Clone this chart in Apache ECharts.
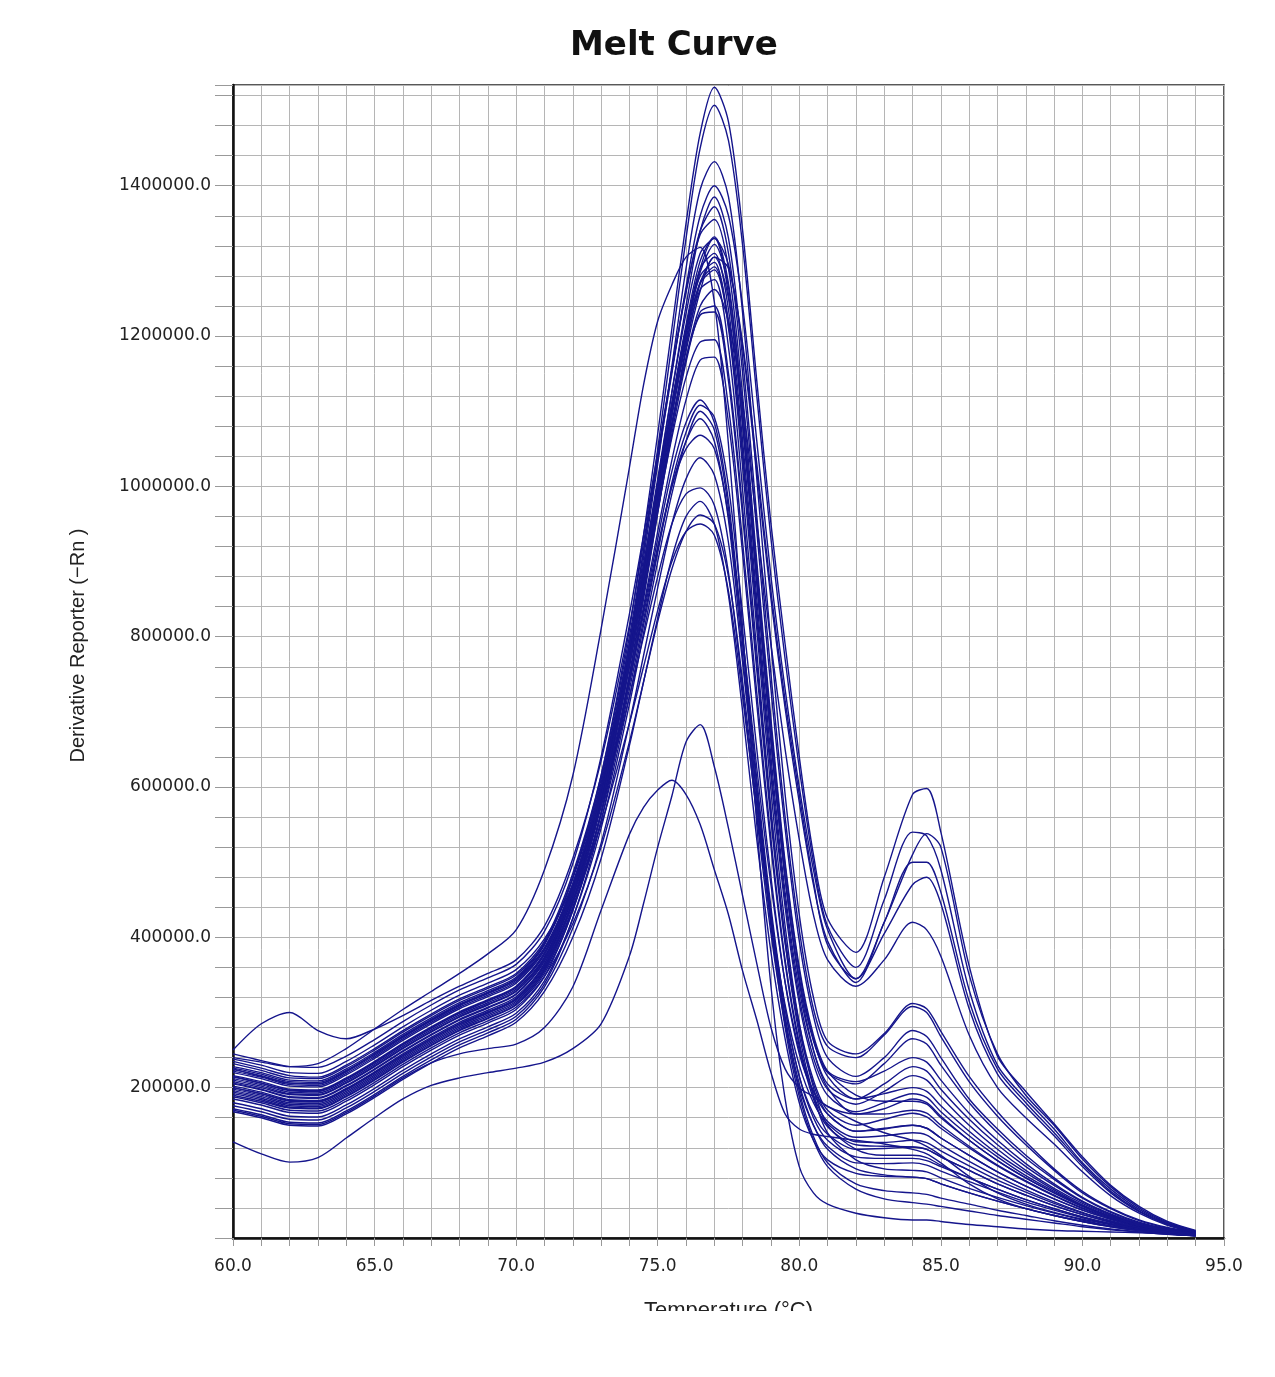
<!DOCTYPE html>
<html>
<head>
<meta charset="utf-8">
<title>Melt Curve</title>
<script src="https://cdn.jsdelivr.net/npm/echarts@6/dist/echarts.min.js"></script>
<style>
    html, body { margin: 0; padding: 0; background: #fff; }
    #chart { width: 1275px; height: 1377px; }
</style>
</head>
<body>
<div id="chart"></div>
<script>
// temperature points (°C)
const temps = [60, 61, 62, 63, 64, 65, 66, 67, 68, 69, 70, 71, 72, 73, 74,
    74.5, 75, 75.5, 76, 76.5, 77, 77.5, 78, 78.5, 79, 79.5, 80, 80.5, 81,
    82, 83, 84, 84.5, 85, 86, 87, 88, 89, 90, 91, 92, 93, 94];

// derivative reporter values, in thousands, one array per well
const well01 = [225,215,206,205,222,245,268,290,310,326,345, 390,480,615,810, 935,1070,1210,1350,1470,1531,1485,1340,1140,950,790,640,510,425, 380,480,590,598,540, 362,242,195,152,108,70,42,22,10];
const well02 = [200,192,183,182,198,220,243,265,285,300,318, 365,455,590,790, 915,1050,1190,1330,1450,1507,1460,1320,1120,930,770,625,500,415, 360,450,540,535,490, 330,230,185,145,100,65,38,20,9];
const well03 = [235,226,216,214,230,252,276,298,318,334,352, 395,485,615,800, 915,1035,1150,1265,1360,1400,1360,1240,1060,880,730,600,490,410, 345,420,510,538,520, 350,245,190,150,105,68,40,21,9];
const well04 = [215,206,197,196,212,234,258,280,300,316,334, 378,465,595,780, 890,1000,1105,1205,1290,1330,1295,1185,1020,850,705,580,470,395, 340,420,500,500,460, 315,225,180,140,98,62,36,19,8];
const well05 = [190,182,173,172,188,210,234,256,276,292,310, 352,435,565,750, 860,975,1080,1180,1260,1305,1290,1190,1030,860,715,590,475,390, 345,405,470,480,445, 305,218,175,136,95,60,35,18,8];
const well06 = [208,200,191,190,206,228,252,274,294,310,328, 372,458,585,765, 870,975,1080,1170,1240,1262,1220,1110,950,790,650,530,430,370, 335,370,420,410,375, 270,200,160,125,88,56,33,17,7];
const well07 = [232,223,213,212,228,250,274,296,316,332,350, 392,478,605,790, 905,1030,1160,1290,1395,1432,1385,1230,1010,790,590,430,320,262, 245,272,312,305,275, 215,168,128,92,62,40,24,14,8];
const well08 = [212,204,194,193,209,231,255,277,297,313,331, 374,462,592,775, 885,1005,1125,1240,1340,1385,1330,1170,960,750,560,410,305,255, 240,270,308,300,268, 208,162,124,90,60,39,23,13,7];
const well09 = [245,236,228,227,242,264,288,310,330,346,364, 408,498,640,830, 935,1045,1155,1258,1340,1372,1310,1150,940,730,545,395,295,240, 215,240,276,268,240, 185,145,110,80,54,35,21,12,7];
const well10 = [220,212,202,201,217,239,263,285,305,321,339, 383,470,600,785, 895,1010,1125,1230,1310,1330,1255,1080,870,660,480,345,265,220, 205,232,265,258,230, 180,140,106,78,53,34,20,12,6];
const well11 = [205,197,187,186,202,224,248,270,290,306,324, 368,455,585,770, 880,995,1105,1210,1290,1310,1235,1060,850,640,460,330,250,205, 185,205,228,222,198, 158,124,95,70,48,31,19,11,6];
const well12 = [198,190,180,179,195,217,241,263,283,299,317, 360,448,578,762, 872,985,1095,1195,1272,1292,1220,1045,835,625,450,320,240,198, 178,195,216,210,188, 150,118,90,66,46,30,18,10,6];
const well13 = [228,220,210,209,225,247,271,293,313,329,347, 392,480,610,790, 895,1005,1110,1205,1270,1288,1215,1040,825,615,440,312,232,190, 168,180,192,187,168, 136,108,83,62,43,28,17,10,5];
const well14 = [185,177,167,166,182,204,228,250,270,286,304, 348,436,565,748, 855,965,1070,1165,1232,1240,1150,970,765,565,400,285,210,170, 150,158,166,161,146, 120,96,75,56,39,26,16,9,5];
const well15 = [216,208,198,197,213,235,259,281,301,317,335, 380,468,595,775, 878,985,1085,1170,1228,1232,1140,960,755,555,392,278,205,165, 142,146,150,146,133, 110,88,69,52,37,25,15,9,5];
const well16 = [192,184,174,173,189,211,235,257,277,293,311, 355,440,565,740, 840,940,1035,1115,1168,1172,1085,910,710,520,365,255,185,148, 124,122,121,118,108, 90,72,57,43,31,21,13,8,4];
const well17 = [210,202,192,191,207,229,253,275,295,311,329, 372,455,575,740, 835,930,1020,1085,1115,1085,980,800,610,440,305,215,160,130, 108,106,106,103,95, 80,65,51,39,28,19,12,7,4];
const well18 = [180,172,162,161,177,199,223,245,265,281,299, 342,425,545,710, 805,900,990,1060,1100,1075,970,790,600,430,295,205,150,118, 92,84,81,79,72, 60,49,39,30,22,15,10,6,3];
const well19 = [200,192,182,181,197,219,243,265,285,301,319, 362,445,565,730, 822,915,1000,1060,1090,1060,955,775,585,415,280,188,130,95, 65,52,47,45,42, 36,30,25,20,15,11,8,5,3];
const well20 = [222,214,204,203,219,241,265,287,307,323,341, 385,465,580,740, 830,920,1000,1050,1068,1050,960,800,625,470,340,250,195,165, 142,145,150,146,133, 110,88,69,52,37,25,15,9,5];
const well21 = [172,164,154,153,169,191,215,237,257,273,291, 334,412,525,685, 775,865,950,1010,1038,1015,925,765,590,430,305,215,165,138, 118,119,121,118,108, 90,72,57,43,31,21,13,8,4];
const well22 = [238,230,220,219,235,257,281,303,323,339,357, 398,470,575,720, 800,880,950,990,998,975,885,730,560,405,285,200,150,122, 100,99,100,97,89, 75,61,48,37,27,18,11,7,4];
const well23 = [168,160,150,149,165,187,211,233,253,269,287, 328,400,505,655, 740,825,905,960,980,950,855,700,530,380,265,180,130,104, 86,82,81,79,72, 60,49,39,30,22,15,10,6,3];
const well24 = [188,180,170,169,185,207,231,253,273,289,307, 348,418,520,660, 740,820,890,940,962,950,880,740,575,420,290,195,135,100, 72,63,60,58,53, 45,37,30,23,17,12,8,5,3];
const well25 = [226,218,208,207,223,245,269,291,311,327,345, 385,450,550,685, 760,835,900,940,950,935,860,720,565,425,310,230,180,152, 128,127,130,127,116, 96,77,61,46,33,22,14,8,4];
const well26 = [202,194,184,183,199,221,245,267,287,303,321, 364,450,578,760, 868,982,1095,1200,1285,1322,1265,1100,890,680,495,355,265,215, 185,192,200,195,176, 142,112,87,64,44,29,18,10,5];
const well27 = [176,168,158,157,173,195,219,241,261,277,295, 338,425,555,740, 850,965,1078,1185,1270,1305,1250,1085,875,665,480,340,250,200, 165,165,170,166,150, 122,97,76,57,40,27,16,9,5];
const well28 = [240,234,228,232,252,278,304,328,352,378,410, 490,615,810,1025, 1135,1220,1268,1305,1318,1245,1055,810,550,335,185,95,60,45, 33,27,24,24,22, 18,15,12,10,9,8,7,6,5];
const well29 = [250,285,300,276,265,278,296,316,335,352,370, 415,505,635,815, 925,1040,1155,1260,1335,1355,1290,1120,900,690,500,360,270,222, 190,182,182,178,160, 130,103,80,60,42,28,17,10,5];
const well30 = [128,112,101,107,133,160,185,203,213,220,226, 234,252,285,375, 445,520,588,660,683,627,545,455,365,280,225,200,188,175, 155,140,130,122,110, 82,60,45,34,25,18,12,8,5];
const well31 = [170,162,152,151,167,189,213,233,245,252,258, 280,334,436,537, 573,596,609,590,550,490,430,355,290,220,165,145,138,135, 130,125,118,112,100, 72,52,39,30,22,16,11,7,4];
const well32 = [196,188,178,177,193,215,239,261,281,297,315, 358,445,575,762, 875,992,1110,1215,1300,1332,1270,1100,880,665,480,345,262,222, 208,222,240,234,210, 166,130,99,72,49,32,19,11,6];
const well33 = [224,216,206,205,221,243,267,289,309,325,343, 386,472,602,785, 892,1002,1110,1210,1280,1298,1210,1025,810,595,415,285,200,150, 118,110,110,107,97, 80,65,51,39,28,19,12,7,4];
const well34 = [206,198,188,187,203,225,249,271,291,307,325, 370,458,588,772, 880,990,1095,1190,1262,1275,1185,995,780,570,395,270,190,140, 104,92,90,88,80, 66,54,43,33,24,16,10,6,3];
const well35 = [194,186,176,175,191,213,237,259,279,295,313, 356,438,555,720, 815,912,1005,1072,1108,1092,1000,830,650,480,340,245,195,175, 165,172,185,180,162, 130,103,80,60,42,28,17,10,5];
const well36 = [214,206,196,195,211,233,257,279,299,315,333, 377,462,588,765, 865,968,1065,1145,1192,1195,1105,925,725,530,370,260,190,155, 134,136,140,137,124, 102,82,64,48,34,23,14,8,4];

const wells = [well01, well02, well03, well04, well05, well06, well07, well08, well09, well10,
    well11, well12, well13, well14, well15, well16, well17, well18, well19, well20,
    well21, well22, well23, well24, well25, well26, well27, well28, well29, well30,
    well31, well32, well33, well34, well35, well36];

const lineColor = '#15158c';
const labelFont = 'DejaVu Sans';

const series = wells.map(function (w, i) {
    return {
        name: 'well' + (i + 1),
        type: 'line',
        data: temps.map(function (t, j) { return [t, w[j] * 1000]; }),
        showSymbol: false,
        smooth: 0.3,
        lineStyle: { color: lineColor, width: 1.4 },
        emphasis: { disabled: true },
        silent: true
    };
});

const option = {
    animation: false,
    backgroundColor: '#fff',
    title: {
        text: 'Melt Curve',
        left: 570,
        top: 29,
        padding: 0,
        textStyle: { fontFamily: labelFont, fontWeight: 'bold', fontSize: 34, color: '#111' }
    },
    grid: {
        left: 233, right: 51, top: 85, bottom: 139,
        show: true,
        borderColor: '#222',
        borderWidth: 1.5,
        backgroundColor: '#fff'
    },
    xAxis: {
        type: 'value',
        min: 60,
        max: 95,
        interval: 1,
        name: 'Temperature (°C)',
        nameLocation: 'middle',
        nameGap: 62,
        nameTextStyle: { fontFamily: 'Liberation Sans', fontSize: 22, color: '#222' },
        axisLine: { show: true, lineStyle: { color: '#111', width: 2.5 } },
        axisTick: { show: true, length: 8, lineStyle: { color: '#999' } },
        axisLabel: {
            margin: 20,
            fontFamily: labelFont,
            fontSize: 17,
            color: '#222',
            formatter: function (v) { return v % 5 === 0 ? v.toFixed(1) : ''; }
        },
        splitLine: { show: true, lineStyle: { color: '#b5b5b5', width: 1 } }
    },
    yAxis: {
        type: 'value',
        min: 0,
        max: 1534000,
        interval: 40000,
        name: 'Derivative Reporter (−Rn )',
        nameLocation: 'middle',
        nameGap: 145,
        nameTextStyle: { fontFamily: 'Liberation Sans', fontSize: 20, color: '#222', padding: [0, 0, 0, 32] },
        axisLine: { show: true, lineStyle: { color: '#111', width: 2.5 } },
        axisTick: { show: true, length: 18, lineStyle: { color: '#999' } },
        axisLabel: {
            margin: 22,
            fontFamily: labelFont,
            fontSize: 17,
            color: '#222',
            formatter: function (v) { return (v > 0 && v % 200000 === 0) ? v.toFixed(1) : ''; }
        },
        splitLine: { show: true, lineStyle: { color: '#b5b5b5', width: 1 } }
    },
    // the source picture is cut off just below the axis title
    graphic: [{
        type: 'rect',
        left: 0,
        top: 1311,
        z: 100,
        shape: { width: 1275, height: 66 },
        style: { fill: '#fff' }
    }],
    series: series
};

const chart = echarts.init(document.getElementById('chart'));
chart.setOption(option);
</script>
</body>
</html>
